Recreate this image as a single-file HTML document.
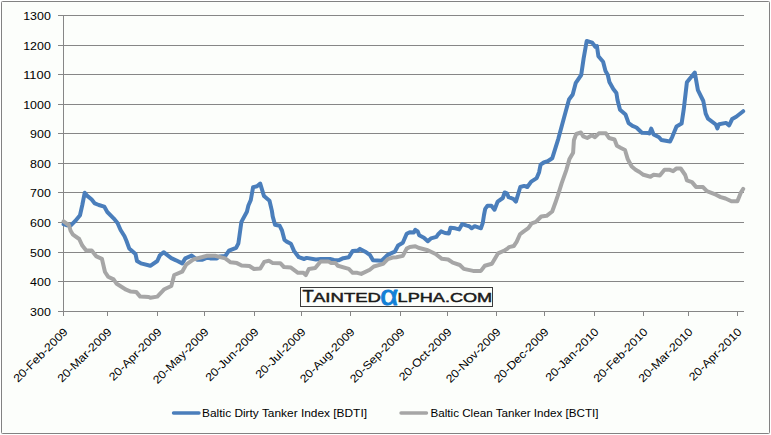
<!DOCTYPE html><html><head><meta charset="utf-8"><style>
html,body{margin:0;padding:0;background:#fff;}
body{width:771px;height:435px;overflow:hidden;font-family:"Liberation Sans",sans-serif;}
svg{display:block}
text{font-family:"Liberation Sans",sans-serif;fill:#000}
</style></head><body>
<svg width="771" height="435" viewBox="0 0 771 435">
<rect x="0" y="0" width="771" height="435" fill="#ffffff"/>
<rect x="1.5" y="1.5" width="768" height="432" rx="0.9" ry="0.9" fill="#fcfefb" stroke="#828282" stroke-width="1"/>
<line x1="58.0" y1="311.5" x2="744.0" y2="311.5" stroke="#868686" stroke-width="1" shape-rendering="crispEdges"/>
<line x1="58.0" y1="281.5" x2="744.0" y2="281.5" stroke="#868686" stroke-width="1" shape-rendering="crispEdges"/>
<line x1="58.0" y1="252.5" x2="744.0" y2="252.5" stroke="#868686" stroke-width="1" shape-rendering="crispEdges"/>
<line x1="58.0" y1="222.5" x2="744.0" y2="222.5" stroke="#868686" stroke-width="1" shape-rendering="crispEdges"/>
<line x1="58.0" y1="192.5" x2="744.0" y2="192.5" stroke="#868686" stroke-width="1" shape-rendering="crispEdges"/>
<line x1="58.0" y1="163.5" x2="744.0" y2="163.5" stroke="#868686" stroke-width="1" shape-rendering="crispEdges"/>
<line x1="58.0" y1="133.5" x2="744.0" y2="133.5" stroke="#868686" stroke-width="1" shape-rendering="crispEdges"/>
<line x1="58.0" y1="104.5" x2="744.0" y2="104.5" stroke="#868686" stroke-width="1" shape-rendering="crispEdges"/>
<line x1="58.0" y1="74.5" x2="744.0" y2="74.5" stroke="#868686" stroke-width="1" shape-rendering="crispEdges"/>
<line x1="58.0" y1="45.5" x2="744.0" y2="45.5" stroke="#868686" stroke-width="1" shape-rendering="crispEdges"/>
<line x1="58.0" y1="15.5" x2="744.0" y2="15.5" stroke="#868686" stroke-width="1" shape-rendering="crispEdges"/>
<line x1="63.5" y1="15.5" x2="63.5" y2="311.5" stroke="#868686" stroke-width="1" shape-rendering="crispEdges"/>
<line x1="63.5" y1="311.5" x2="63.5" y2="316.0" stroke="#868686" stroke-width="1" shape-rendering="crispEdges"/>
<line x1="107.5" y1="311.5" x2="107.5" y2="316.0" stroke="#868686" stroke-width="1" shape-rendering="crispEdges"/>
<line x1="157.5" y1="311.5" x2="157.5" y2="316.0" stroke="#868686" stroke-width="1" shape-rendering="crispEdges"/>
<line x1="204.5" y1="311.5" x2="204.5" y2="316.0" stroke="#868686" stroke-width="1" shape-rendering="crispEdges"/>
<line x1="254.5" y1="311.5" x2="254.5" y2="316.0" stroke="#868686" stroke-width="1" shape-rendering="crispEdges"/>
<line x1="301.5" y1="311.5" x2="301.5" y2="316.0" stroke="#868686" stroke-width="1" shape-rendering="crispEdges"/>
<line x1="350.5" y1="311.5" x2="350.5" y2="316.0" stroke="#868686" stroke-width="1" shape-rendering="crispEdges"/>
<line x1="400.5" y1="311.5" x2="400.5" y2="316.0" stroke="#868686" stroke-width="1" shape-rendering="crispEdges"/>
<line x1="447.5" y1="311.5" x2="447.5" y2="316.0" stroke="#868686" stroke-width="1" shape-rendering="crispEdges"/>
<line x1="496.5" y1="311.5" x2="496.5" y2="316.0" stroke="#868686" stroke-width="1" shape-rendering="crispEdges"/>
<line x1="544.5" y1="311.5" x2="544.5" y2="316.0" stroke="#868686" stroke-width="1" shape-rendering="crispEdges"/>
<line x1="594.5" y1="311.5" x2="594.5" y2="316.0" stroke="#868686" stroke-width="1" shape-rendering="crispEdges"/>
<line x1="643.5" y1="311.5" x2="643.5" y2="316.0" stroke="#868686" stroke-width="1" shape-rendering="crispEdges"/>
<line x1="688.5" y1="311.5" x2="688.5" y2="316.0" stroke="#868686" stroke-width="1" shape-rendering="crispEdges"/>
<line x1="737.5" y1="311.5" x2="737.5" y2="316.0" stroke="#868686" stroke-width="1" shape-rendering="crispEdges"/>
<text x="50.8" y="315.5" text-anchor="end" font-size="11.2" textLength="20.7" lengthAdjust="spacingAndGlyphs">300</text>
<text x="50.8" y="285.5" text-anchor="end" font-size="11.2" textLength="20.7" lengthAdjust="spacingAndGlyphs">400</text>
<text x="50.8" y="256.5" text-anchor="end" font-size="11.2" textLength="20.7" lengthAdjust="spacingAndGlyphs">500</text>
<text x="50.8" y="226.5" text-anchor="end" font-size="11.2" textLength="20.7" lengthAdjust="spacingAndGlyphs">600</text>
<text x="50.8" y="196.5" text-anchor="end" font-size="11.2" textLength="20.7" lengthAdjust="spacingAndGlyphs">700</text>
<text x="50.8" y="167.5" text-anchor="end" font-size="11.2" textLength="20.7" lengthAdjust="spacingAndGlyphs">800</text>
<text x="50.8" y="137.5" text-anchor="end" font-size="11.2" textLength="20.7" lengthAdjust="spacingAndGlyphs">900</text>
<text x="50.8" y="108.5" text-anchor="end" font-size="11.2" textLength="27.6" lengthAdjust="spacingAndGlyphs">1000</text>
<text x="50.8" y="78.5" text-anchor="end" font-size="11.2" textLength="27.6" lengthAdjust="spacingAndGlyphs">1100</text>
<text x="50.8" y="49.5" text-anchor="end" font-size="11.2" textLength="27.6" lengthAdjust="spacingAndGlyphs">1200</text>
<text x="50.8" y="19.5" text-anchor="end" font-size="11.2" textLength="27.6" lengthAdjust="spacingAndGlyphs">1300</text>
<text transform="translate(68.5,332.5) rotate(-45)" text-anchor="end" font-size="11.2" textLength="71.5" lengthAdjust="spacingAndGlyphs">20-Feb-2009</text>
<text transform="translate(112.5,332.5) rotate(-45)" text-anchor="end" font-size="11.2" textLength="71.5" lengthAdjust="spacingAndGlyphs">20-Mar-2009</text>
<text transform="translate(162.5,332.5) rotate(-45)" text-anchor="end" font-size="11.2" textLength="69.4" lengthAdjust="spacingAndGlyphs">20-Apr-2009</text>
<text transform="translate(209.5,332.5) rotate(-45)" text-anchor="end" font-size="11.2" textLength="73.6" lengthAdjust="spacingAndGlyphs">20-May-2009</text>
<text transform="translate(259.5,332.5) rotate(-45)" text-anchor="end" font-size="11.2" textLength="70.1" lengthAdjust="spacingAndGlyphs">20-Jun-2009</text>
<text transform="translate(306.5,332.5) rotate(-45)" text-anchor="end" font-size="11.2" textLength="65.9" lengthAdjust="spacingAndGlyphs">20-Jul-2009</text>
<text transform="translate(355.5,332.5) rotate(-45)" text-anchor="end" font-size="11.2" textLength="72.2" lengthAdjust="spacingAndGlyphs">20-Aug-2009</text>
<text transform="translate(405.5,332.5) rotate(-45)" text-anchor="end" font-size="11.2" textLength="72.2" lengthAdjust="spacingAndGlyphs">20-Sep-2009</text>
<text transform="translate(452.5,332.5) rotate(-45)" text-anchor="end" font-size="11.2" textLength="69.4" lengthAdjust="spacingAndGlyphs">20-Oct-2009</text>
<text transform="translate(501.5,332.5) rotate(-45)" text-anchor="end" font-size="11.2" textLength="72.2" lengthAdjust="spacingAndGlyphs">20-Nov-2009</text>
<text transform="translate(549.5,332.5) rotate(-45)" text-anchor="end" font-size="11.2" textLength="72.2" lengthAdjust="spacingAndGlyphs">20-Dec-2009</text>
<text transform="translate(599.5,332.5) rotate(-45)" text-anchor="end" font-size="11.2" textLength="70.1" lengthAdjust="spacingAndGlyphs">20-Jan-2010</text>
<text transform="translate(648.5,332.5) rotate(-45)" text-anchor="end" font-size="11.2" textLength="71.5" lengthAdjust="spacingAndGlyphs">20-Feb-2010</text>
<text transform="translate(693.5,332.5) rotate(-45)" text-anchor="end" font-size="11.2" textLength="71.5" lengthAdjust="spacingAndGlyphs">20-Mar-2010</text>
<text transform="translate(742.5,332.5) rotate(-45)" text-anchor="end" font-size="11.2" textLength="69.4" lengthAdjust="spacingAndGlyphs">20-Apr-2010</text>
<path d="M63.6 224.2 L67.0 225.3 L70.6 225.6 L75.3 220.9 L80.0 215.2 L82.3 205.0 L84.7 192.8 L87.0 195.6 L91.7 199.5 L94.8 203.4 L98.8 205.0 L104.2 206.6 L107.3 212.0 L113.6 218.3 L117.5 223.0 L120.6 230.0 L124.5 236.3 L126.5 241.0 L129.2 248.4 L135.5 254.0 L137.0 261.0 L141.0 263.4 L150.3 265.8 L157.3 261.0 L159.7 255.6 L163.6 252.2 L171.3 258.2 L176.0 260.3 L182.2 263.4 L185.3 258.4 L191.6 255.6 L197.0 259.7 L202.5 259.7 L207.2 257.7 L210.3 258.4 L216.6 258.4 L219.7 256.6 L225.2 256.1 L229.0 250.6 L236.1 247.8 L238.4 243.3 L239.7 234.0 L241.4 221.9 L246.9 211.7 L248.4 205.5 L250.8 200.0 L253.1 187.2 L257.0 186.2 L260.2 183.6 L264.0 196.1 L269.5 200.8 L271.9 210.9 L272.7 216.4 L275.0 224.7 L279.7 225.8 L282.0 230.5 L284.5 240.0 L286.7 241.6 L290.9 243.7 L294.0 250.9 L298.8 257.2 L304.2 259.0 L306.6 257.9 L315.9 259.5 L320.6 259.0 L330.0 259.0 L333.9 260.0 L338.6 260.3 L343.3 258.2 L348.8 257.2 L352.7 250.9 L358.1 250.4 L360.0 248.9 L365.2 251.7 L369.8 254.8 L373.0 260.3 L381.6 260.8 L387.8 254.8 L394.8 251.7 L398.1 245.5 L402.8 242.8 L406.7 233.8 L409.8 232.2 L413.8 232.5 L415.3 229.8 L417.7 231.4 L419.2 235.3 L423.9 237.7 L427.8 241.2 L430.9 238.4 L436.4 236.9 L438.0 234.5 L441.1 231.4 L445.0 233.0 L448.9 233.4 L450.5 227.8 L455.2 228.3 L459.1 229.4 L462.2 224.1 L466.9 225.6 L469.2 226.2 L471.6 228.3 L474.7 226.2 L480.9 228.3 L482.8 222.8 L484.0 215.0 L485.2 208.9 L487.5 205.8 L491.4 205.8 L494.5 209.7 L497.7 201.6 L502.8 198.0 L504.7 192.5 L507.0 193.3 L508.6 197.2 L513.3 198.8 L515.9 201.6 L520.3 187.0 L524.2 185.9 L527.3 187.0 L531.2 181.6 L536.7 178.1 L539.1 172.2 L540.6 164.7 L543.8 162.5 L547.7 161.2 L552.2 158.3 L558.3 138.8 L563.8 118.4 L569.0 99.5 L572.7 94.5 L575.8 82.8 L581.2 75.0 L583.6 58.6 L586.7 41.0 L592.2 42.6 L595.3 46.8 L596.9 46.0 L598.4 56.2 L603.1 61.7 L605.5 71.0 L607.8 75.0 L609.4 82.0 L613.3 89.0 L616.4 93.0 L617.5 100.0 L620.0 109.8 L625.5 114.5 L628.6 123.1 L632.5 125.9 L636.4 127.5 L641.9 132.7 L648.5 133.0 L649.4 133.5 L651.2 128.6 L653.6 134.4 L659.0 137.2 L661.4 140.0 L670.0 141.5 L672.3 136.8 L676.5 126.5 L681.6 123.6 L683.8 108.9 L686.9 82.3 L694.8 72.6 L697.9 90.1 L703.3 101.0 L705.7 113.6 L708.0 118.6 L715.8 124.5 L717.4 128.4 L719.0 124.2 L726.0 122.9 L729.1 125.3 L732.2 119.0 L736.2 116.7 L743.2 111.2" fill="none" stroke="#4a7ebb" stroke-width="4.0" stroke-linejoin="round" stroke-linecap="round"/>
<path d="M63.6 221.4 L69.0 225.3 L70.6 230.8 L73.0 234.7 L79.2 239.0 L82.3 245.6 L86.2 250.6 L91.7 250.6 L96.4 256.4 L101.9 258.8 L105.0 272.0 L108.1 276.7 L113.6 279.4 L116.7 283.8 L126.1 289.7 L130.8 291.6 L136.2 291.9 L140.2 296.6 L148.8 297.0 L150.3 297.8 L157.3 296.6 L164.4 289.2 L171.3 286.0 L174.2 275.0 L182.2 271.7 L186.1 264.7 L193.9 259.2 L207.2 255.8 L215.0 255.8 L225.2 258.4 L230.6 262.3 L236.9 263.1 L241.6 265.5 L249.4 266.0 L254.0 269.0 L260.3 268.6 L264.2 261.9 L268.9 260.8 L272.8 263.1 L280.3 263.2 L283.9 267.0 L290.9 267.6 L298.0 272.8 L303.4 272.8 L305.8 275.1 L308.9 268.9 L315.2 268.1 L320.6 261.4 L328.4 261.4 L330.8 262.9 L335.5 262.9 L337.8 265.8 L348.8 268.9 L352.7 272.8 L357.3 272.8 L361.2 273.9 L369.8 269.7 L373.8 266.5 L383.1 263.9 L387.8 259.2 L392.5 257.6 L396.4 257.3 L402.8 255.9 L406.7 248.6 L409.8 247.0 L415.3 246.2 L418.4 247.8 L427.8 250.2 L435.6 254.0 L441.9 258.8 L448.1 259.5 L452.8 262.7 L459.8 265.0 L463.8 268.9 L473.1 270.9 L480.9 270.9 L484.8 265.8 L491.9 263.8 L498.1 253.3 L504.4 250.5 L506.9 249.1 L509.0 247.1 L513.8 246.0 L516.6 241.9 L520.0 234.3 L523.4 231.6 L528.3 228.1 L531.7 223.3 L535.9 221.9 L541.2 216.5 L546.6 215.8 L552.2 211.5 L555.9 201.2 L557.8 195.6 L561.7 183.1 L566.4 169.8 L569.5 158.9 L573.1 152.8 L573.9 140.3 L576.2 134.0 L580.9 132.5 L583.3 136.4 L587.2 138.0 L591.9 135.3 L595.0 137.2 L598.9 133.3 L605.9 133.3 L609.0 138.0 L614.5 139.5 L616.9 145.8 L620.5 147.8 L625.0 150.0 L627.8 159.3 L631.7 166.5 L635.6 169.7 L639.5 172.0 L643.4 174.8 L650.5 176.7 L653.6 174.8 L659.8 175.4 L664.5 169.7 L669.2 169.7 L673.1 171.2 L676.2 168.6 L680.7 168.5 L685.2 175.0 L686.9 180.4 L692.0 182.1 L696.0 186.9 L703.0 187.1 L706.9 191.2 L715.9 194.7 L720.7 197.1 L725.5 198.5 L731.4 201.3 L737.4 201.3 L741.0 192.3 L743.2 188.9" fill="none" stroke="#a6a6a6" stroke-width="4.0" stroke-linejoin="round" stroke-linecap="round"/>
<rect x="300.5" y="287.5" width="192" height="19" fill="#fcfefb" stroke="#3c3c3c" stroke-width="1"/>
<text transform="translate(302.4,302) scale(1.13,1)" font-size="16.3" style="fill:#1a1a1a;stroke:#1a1a1a;stroke-width:0.5px">T</text>
<text x="313" y="302" font-size="12.3" textLength="68" lengthAdjust="spacingAndGlyphs" style="fill:#1a1a1a;stroke:#1a1a1a;stroke-width:0.45px">AINTED</text>
<text transform="translate(380.3,304.7) scale(1.15,1.03)" font-size="27" style="fill:#1280d6;stroke:#1280d6;stroke-width:0.9px;stroke-linejoin:round">α</text>
<text x="397.6" y="302" font-size="12.3" textLength="94.6" lengthAdjust="spacingAndGlyphs" style="fill:#1a1a1a;stroke:#1a1a1a;stroke-width:0.45px">LPHA.COM</text>
<line x1="173.5" y1="413" x2="199" y2="413" stroke="#4a7ebb" stroke-width="3.4" stroke-linecap="round"/>
<text x="202" y="417" font-size="11.6" textLength="165" lengthAdjust="spacingAndGlyphs">Baltic Dirty Tanker Index [BDTI]</text>
<line x1="401" y1="413" x2="426.5" y2="413" stroke="#a6a6a6" stroke-width="3.4" stroke-linecap="round"/>
<text x="430.5" y="417" font-size="11.6" textLength="168" lengthAdjust="spacingAndGlyphs">Baltic Clean Tanker Index [BCTI]</text>
</svg></body></html>
